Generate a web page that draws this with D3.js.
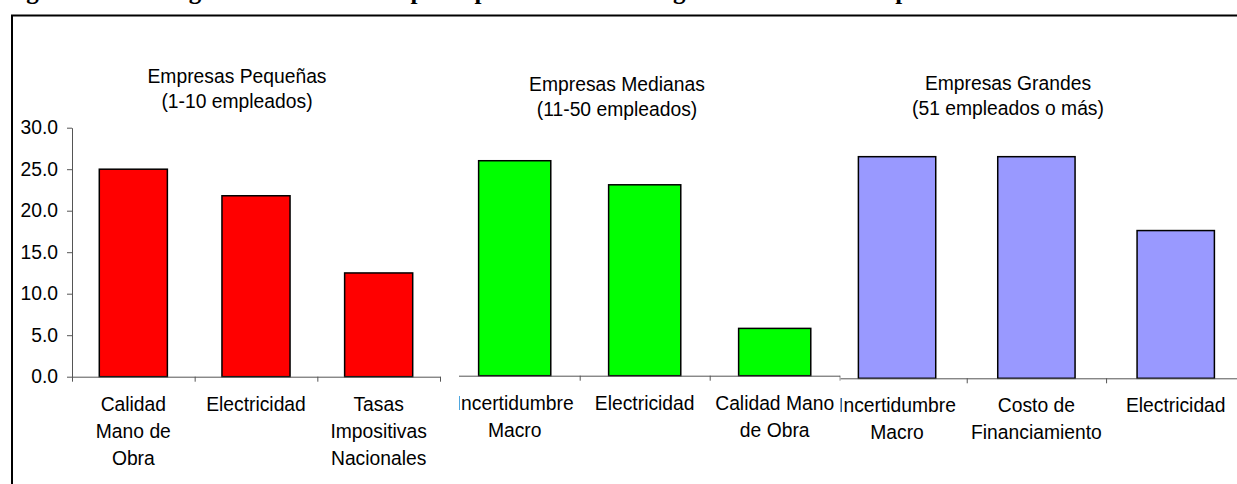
<!DOCTYPE html>
<html lang="es">
<head>
<meta charset="utf-8">
<script src="https://cdn.jsdelivr.net/npm/d3@7"></script>
<style>
  html, body { margin: 0; padding: 0; background: #fff; }
  svg { display: block; }
  text { font-family: "Liberation Sans", Arial, sans-serif; fill: #000; }
  text.caption { font-family: "Liberation Serif", "Times New Roman", serif; font-weight: bold; }
</style>
</head>
<body>
<svg id="chart" width="1237" height="484"></svg>
<script>
// Ranking de obstáculos por tamaño de empresa (% de empresas)
const tituloFigura = "Figura 1: Ranking de obstáculos: tres principales obstáculos según tamaño de la empresa";

const yTicks = [0, 5, 10, 15, 20, 25, 30];

const tituloPequenas = ["Empresas Pequeñas", "(1-10 empleados)"];
const categoriasPequenas = ["Calidad\nMano de\nObra", "Electricidad", "Tasas\nImpositivas\nNacionales"];
const valoresPequenas = [25.0, 21.8, 12.5];

const tituloMedianas = ["Empresas Medianas", "(11-50 empleados)"];
const categoriasMedianas = ["Incertidumbre\nMacro", "Electricidad", "Calidad Mano\nde Obra"];
const valoresMedianas = [25.9, 23.0, 5.7];

const tituloGrandes = ["Empresas Grandes", "(51 empleados o más)"];
const categoriasGrandes = ["Incertidumbre\nMacro", "Costo de\nFinanciamiento", "Electricidad"];
const valoresGrandes = [26.7, 26.7, 17.8];

// Each panel is its own chart object; later ones sit on top of earlier ones.
const paneles = [
  { titulo: tituloGrandes, cats: categoriasGrandes, vals: valoresGrandes, color: "#9999FF",
    x0: 827.4, x1: 1245.4, base: 378.3, clip: [840.5, 1237], tx: 1008, ty: 90, ejeY: false },
  { titulo: tituloMedianas, cats: categoriasMedianas, vals: valoresMedianas, color: "#00FF00",
    x0: 449.7, x1: 839.7, base: 375.7, clip: [459, 840.5], tx: 617, ty: 90.5, ejeY: false },
  { titulo: tituloPequenas, cats: categoriasPequenas, vals: valoresPequenas, color: "#FF0000",
    x0: 72, x1: 440, base: 376.7, clip: [13, 459], tx: 237, ty: 82.7, ejeY: true }
];

const svg = d3.select("#chart");
const pxPorUnidad = 8.3;
const FS = 19.3;

paneles.forEach((p, i) => {
  const clipId = "clip" + i;
  svg.append("clipPath").attr("id", clipId)
    .append("rect").attr("x", p.clip[0]).attr("y", 17)
    .attr("width", p.clip[1] - p.clip[0]).attr("height", 484 - 17);

  const g = svg.append("g").attr("clip-path", `url(#${clipId})`);
  g.append("rect").attr("x", p.clip[0]).attr("y", 17)
    .attr("width", p.clip[1] - p.clip[0]).attr("height", 484 - 17).attr("fill", "#fff");

  const y = d3.scaleLinear().domain([0, 30]).range([p.base, p.base - 30 * pxPorUnidad]);
  const x = d3.scaleBand().domain(p.cats).range([p.x0, p.x1])
    .paddingInner(0.445).paddingOuter(0.2225);
  const xBordes = d3.scaleLinear().domain([0, p.cats.length]).range([p.x0, p.x1]);

  // bars
  g.selectAll("rect.bar").data(p.vals).join("rect")
    .attr("class", "bar")
    .attr("x", (d, j) => x(p.cats[j]))
    .attr("width", x.bandwidth())
    .attr("y", d => y(d))
    .attr("height", d => y(0) - y(d))
    .attr("fill", p.color)
    .attr("stroke", "#000")
    .attr("stroke-width", 1.5);

  // category axis with ticks between categories
  const ejeX = g.append("g").attr("transform", `translate(0,${p.base})`)
    .call(d3.axisBottom(xBordes).tickValues(d3.range(p.cats.length + 1))
      .tickSize(5).tickSizeOuter(0).tickFormat(""));
  ejeX.selectAll("path, line").attr("stroke", "#555").attr("stroke-width", 1);

  // value axis
  if (p.ejeY) {
    const ejeY = g.append("g").attr("transform", `translate(${p.x0},0)`)
      .call(d3.axisLeft(y).tickValues(yTicks).tickSize(5).tickSizeOuter(0)
        .tickPadding(9).tickFormat(d3.format(".1f")));
    ejeY.selectAll("path, line").attr("stroke", "#555").attr("stroke-width", 1);
    ejeY.selectAll("text").style("font-size", FS + "px").attr("fill", "#000");
  }

  // category labels
  const etiquetas = g.selectAll("text.cat").data(p.cats).join("text")
    .attr("class", "cat")
    .attr("text-anchor", "middle")
    .style("font-size", FS + "px")
    .attr("x", d => x(d) + x.bandwidth() / 2)
    .attr("y", p.base + 34);
  etiquetas.selectAll("tspan").data(d => d.split("\n")).join("tspan")
    .attr("x", function () { return this.parentNode.getAttribute("x"); })
    .attr("dy", (d, k) => k === 0 ? 0 : 27)
    .text(d => d);

  // panel title
  const t = g.append("text").attr("text-anchor", "middle").style("font-size", FS + "px")
    .attr("x", p.tx).attr("y", p.ty);
  t.selectAll("tspan").data(p.titulo).join("tspan")
    .attr("x", p.tx).attr("dy", (d, k) => k === 0 ? 0 : 25).text(d => d);
});

// figure caption, running off the top edge
svg.append("text")
  .attr("class", "caption")
  .attr("x", 4).attr("y", -0.8)
  .style("font-size", "25px")
  .text(tituloFigura);

// frame around the figure
svg.append("path")
  .attr("d", "M12,484 V15.5 H1237")
  .attr("fill", "none").attr("stroke", "#000").attr("stroke-width", 2);
</script>
</body>
</html>
